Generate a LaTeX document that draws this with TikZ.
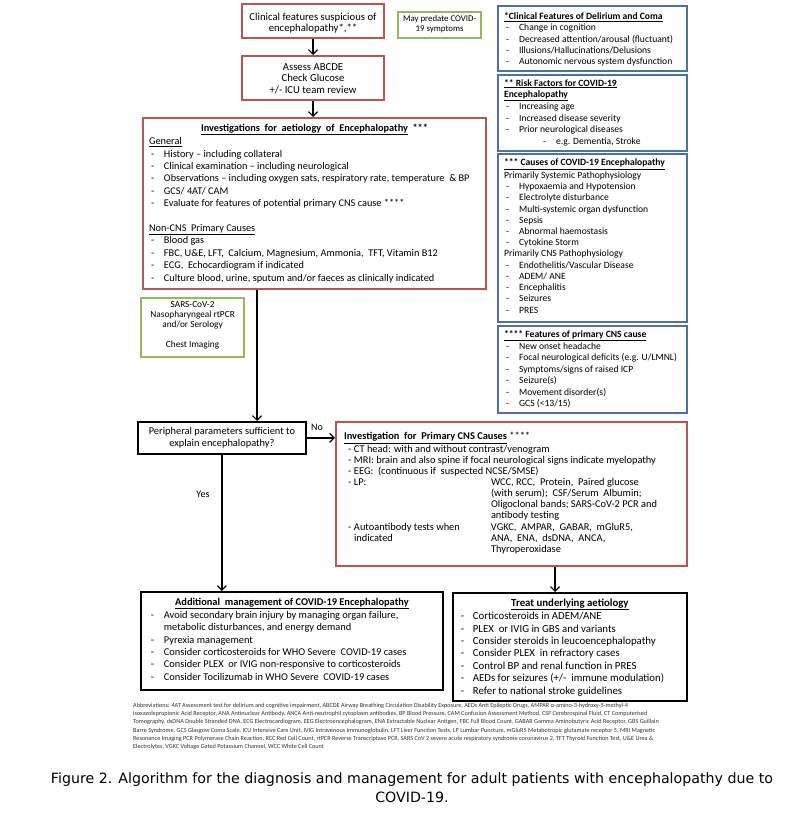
\documentclass[tikz,border=0pt]{standalone}
\usepackage{fontspec}
\setmainfont{Carlito}
\newfontfamily\capfont{DejaVu Sans}
\usepackage{tikz}
\usetikzlibrary{calc}
\usetikzlibrary{arrows.meta}
\definecolor{boxred}{RGB}{185,84,82}
\definecolor{boxblue}{RGB}{74,114,165}
\definecolor{boxgreen}{RGB}{150,185,90}
\newcommand{\bx}[4][4]{\parbox[c][#3pt][t]{#2pt}{\vspace*{#1pt}#4}}
\newcommand{\dl}[2][15pt]{\par\strut\makebox[#1][l]{\hspace{2pt}-}#2}
\newcommand{\cl}[2][15pt]{\par\strut\hspace*{#1}#2}
\newcommand{\pl}[1]{\par\strut#1}
\newcommand{\ctl}[1]{\par\hbox to\linewidth{\hss\strut#1\hss}}
\newcommand{\hd}[1]{\underline{\textbf{#1}}}
\tikzset{
	anybox/.style={anchor=north west, inner xsep=6pt, inner ysep=0pt},
	redbox/.style={anybox, draw=boxred, line width=2pt},
	bluebox/.style={anybox, draw=boxblue, line width=2.2pt},
	greenbox/.style={anybox, draw=boxgreen, line width=2.2pt, inner xsep=4pt},
	blackbox/.style={anybox, draw=black, line width=1.8pt},
	link/.style={line width=1.2pt, -{Straight Barb[length=4.5pt,width=9pt]}},
	lbl/.style={font=\fontsize{10}{11}\selectfont, inner sep=0pt},
}

\begin{document}
\begin{tikzpicture}[x=1pt, y=-1pt]
	\fill[white] (0,0) rectangle (798,813);
	\useasboundingbox (0,0) rectangle (798,813);
	% left column
	\node[redbox, font=\fontsize{10.7}{11.5}\selectfont] at (241,3) (clin) {\bx[8]{130}{34}{\ctl{Clinical features suspicious of}\ctl{encephalopathy*,**}}};
	\node[greenbox, font=\fontsize{8.8}{10}\selectfont] at (397,11) (note) {\bx[2]{75}{26}{\ctl{May predate COVID-}\ctl{19 symptoms}}};
	\node[redbox, font=\fontsize{10.7}{11.5}\selectfont] at (241,55) (abcde) {\bx[6]{130}{44}{\ctl{Assess ABCDE}\ctl{Check Glucose}\ctl{+/- ICU team review}}};
	\node[redbox, font=\fontsize{10.3}{12.4}\selectfont] at (142,117) (inv) {\bx[4.5]{331}{171}{%
		\ctl{\hd{Investigations\ \ for\ \ aetiology\ \ of\ \ Encephalopathy}\ \ \textbf{***}}
		\pl{\underline{General}}
		\dl{History -- including collateral}
		\dl{Clinical examination -- including neurological}
		\dl{Observations -- including oxygen sats, respiratory rate, temperature\ \ \& BP}
		\dl{GCS/ 4AT/ CAM}
		\dl{Evaluate for features of potential primary CNS cause ****}
		\pl{}
		\pl{\underline{Non-CNS\ \ Primary Causes}}
		\dl{Blood gas}
		\dl{FBC, U\&E, LFT,\ \ Calcium, Magnesium, Ammonia,\ \ TFT, Vitamin B12}
		\dl{ECG,\ \ Echocardiogram if indicated}
		\dl{Culture blood, urine, sputum and/or faeces as clinically indicated}}};
	\node[greenbox, font=\fontsize{9.3}{10}\selectfont] at (140,297) (sars) {\bx[2.7]{95}{59}{\ctl{SARS-CoV-2}\ctl{Nasopharyngeal rtPCR}\ctl{and/or Serology}\ctl{}\ctl{Chest Imaging}}};
	\node[blackbox, font=\fontsize{10.4}{12}\selectfont] at (137,421) (dec) {\bx[3.8]{156}{32}{\ctl{Peripheral parameters sufficient to}\ctl{explain encephalopathy?}}};
	\node[redbox, inner xsep=10pt, font=\fontsize{10.4}{11.1}\selectfont] at (335,421) (cns) {\bx[10]{331}{144}{%
		\pl{\hspace*{-2pt}\hd{Investigation\ \ for\ \ Primary CNS Causes} ****}
		\dl[8pt]{CT head: with and without contrast/venogram}
		\dl[8pt]{MRI: brain and also spine if focal neurological signs indicate myelopathy}
		\dl[8pt]{EEG:\ \ (continuous if\ \ suspected NCSE/SMSE)}
		\pl{\makebox[145pt][l]{\makebox[8pt][l]{\hspace{2pt}-}LP:}WCC, RCC,\ \ Protein,\ \ Paired glucose}
		\cl[145pt]{(with serum);\ \ CSF/Serum\ \ Albumin;}
		\cl[145pt]{Oligoclonal bands; SARS-CoV-2 PCR and}
		\cl[145pt]{antibody testing}
		\pl{\makebox[145pt][l]{\makebox[8pt][l]{\hspace{2pt}-}Autoantibody tests when}VGKC,\ \ AMPAR,\ \ GABAR,\ \ mGluR5,}
		\pl{\makebox[145pt][l]{\hspace*{8pt}indicated}ANA,\ \ ENA,\ \ dsDNA,\ \ ANCA,}
		\cl[145pt]{Thyroperoxidase}}};
	\node[lbl] at (317,427) (no) {No};
	\node[lbl] at (203,494) (yes) {Yes};
	\node[blackbox, inner xsep=8pt, font=\fontsize{10.4}{12.3}\selectfont] at (140,591) (addm) {\bx[4.7]{286}{98}{%
		\ctl{\hd{Additional\ \ management of COVID-19 Encephalopathy}}
		\dl{Avoid secondary brain injury by managing organ failure,}
		\cl{metabolic disturbances, and energy demand}
		\dl{Pyrexia management}
		\dl{Consider corticosteroids for WHO Severe\ \ COVID-19 cases}
		\dl{Consider PLEX\ \ or IVIG non-responsive to corticosteroids}
		\dl{Consider Tocilizumab in WHO Severe\ \ COVID-19 cases}}};
	\node[blackbox, font=\fontsize{10.8}{12.4}\selectfont] at (452,592) (treat) {\bx[4.6]{222}{108}{%
		\ctl{\hd{Treat underlying aetiology}}
		\dl[14pt]{Corticosteroids in ADEM/ANE}
		\dl[14pt]{PLEX\ \ or IVIG in GBS and variants}
		\dl[14pt]{Consider steroids in leucoencephalopathy}
		\dl[14pt]{Consider PLEX\ \ in refractory cases}
		\dl[14pt]{Control BP and renal function in PRES}
		\dl[14pt]{AEDs for seizures (+/-\ \ immune modulation)}
		\dl[14pt]{Refer to national stroke guidelines}}};
	% right column
	\node[bluebox, font=\fontsize{9.6}{11.3}\selectfont] at (497,5) (delir) {\bx[5.5]{177}{65}{%
		\pl{\hd{*Clinical Features of Delirium and Coma}}
		\dl{Change in cognition}
		\dl{Decreased attention/arousal (fluctuant)}
		\dl{Illusions/Hallucinations/Delusions}
		\dl{Autonomic nervous system dysfunction}}};
	\node[bluebox, font=\fontsize{9.6}{11.4}\selectfont] at (497,74) (risk) {\bx[3]{177}{76}{%
		\pl{\hd{** Risk Factors for COVID-19}}
		\pl{\hd{Encephalopathy}}
		\dl{Increasing age}
		\dl{Increased disease severity}
		\dl{Prior neurological diseases}
		\pl{\hspace*{39pt}\makebox[13pt][l]{-}e.g. Dementia, Stroke}}};
	\node[bluebox, font=\fontsize{9.6}{11.23}\selectfont] at (497,153) (causes) {\bx[4]{177}{168}{%
		\pl{\hd{*** Causes of COVID-19 Encephalopathy}}
		\pl{Primarily Systemic Pathophysiology}
		\dl{Hypoxaemia and Hypotension}
		\dl{Electrolyte disturbance}
		\dl{Multi-systemic organ dysfunction}
		\dl{Sepsis}
		\dl{Abnormal haemostasis}
		\dl{Cytokine Storm}
		\pl{Primarily CNS Pathophysiology}
		\dl{Endothelitis/Vascular Disease}
		\dl{ADEM/ ANE}
		\dl{Encephalitis}
		\dl{Seizures}
		\dl{PRES}}};
	\node[bluebox, font=\fontsize{9.6}{11.4}\selectfont] at (497,325) (cnsfeat) {\bx[3]{177}{87}{%
		\pl{\hd{**** Features of primary CNS cause}}
		\dl{New onset headache}
		\dl{Focal neurological deficits (e.g. U/LMNL)}
		\dl{Symptoms/signs of raised ICP}
		\dl{Seizure(s)}
		\dl{Movement disorder(s)}
		\dl{GCS (<13/15)}}};
	% connectors
	\coordinate (t1) at (257,0);
	\coordinate (t2) at (555,0);
	\draw[link] (clin) -- (abcde);
	\draw[link] (abcde) -- (abcde.south |- inv.north);
	\draw[link] (t1 |- inv.south) -- (t1 |- dec.north);
	\draw[link] (dec.east) -- (dec.east -| cns.west);
	\draw[link] (dec.south) -- (dec.south |- addm.north);
	\draw[link] (t2 |- cns.south) -- (t2 |- treat.north);
	% footnote and caption
	\node[anchor=north west, inner sep=0pt, align=left, text=black!80, font=\fontsize{6.2}{8.2}\selectfont] at (133,703) (abbr) {Abbreviations: 4AT Assessment test for delirium and cognitive impairment, ABCDE Airway Breathing Circulation Disability Exposure, AEDs Anti Epileptic Drugs, AMPAR α-amino-3-hydroxy-5-methyl-4\\
		isoxazolepropionic Acid Receptor, ANA Antinuclear Antibody, ANCA Anti-neutrophil cytoplasm antibodies, BP Blood Pressure, CAM Confusion Assessment Method, CSF Cerebrospinal Fluid, CT Computerised\\
		Tomography, dsDNA Double Stranded DNA, ECG Electrocardiogram, EEG Electroencephalogram, ENA Extractable Nuclear Antigen, FBC Full Blood Count, GABAR Gamma Aminobutyric Acid Receptor, GBS Guillain\\
		Barre Syndrome, GCS Glasgow Coma Scale, ICU Intensive Care Unit, IVIG Intravenous Immunoglobulin, LFT Liver Function Tests, LP Lumbar Puncture, mGluR5 Metabotropic glutamate receptor 5, MRI Magnetic\\
		Resonance Imaging PCR Polymerase Chain Reaction, RCC Red Cell Count, rtPCR Reverse Transcriptase PCR, SARS CoV 2 severe acute respiratory syndrome coronavirus 2, TFT Thyroid Function Test, U\&E Urea \&\\
		Electrolytes, VGKC Voltage Gated Potassium Channel, WCC White Cell Count};
	\node[align=center, inner sep=0pt, font=\capfont\fontsize{14.2}{19}\selectfont] at (412,787.5) (cap) {Figure 2. Algorithm for the diagnosis and management for adult patients with encephalopathy due to\\COVID-19.};
\end{tikzpicture}
\end{document}
